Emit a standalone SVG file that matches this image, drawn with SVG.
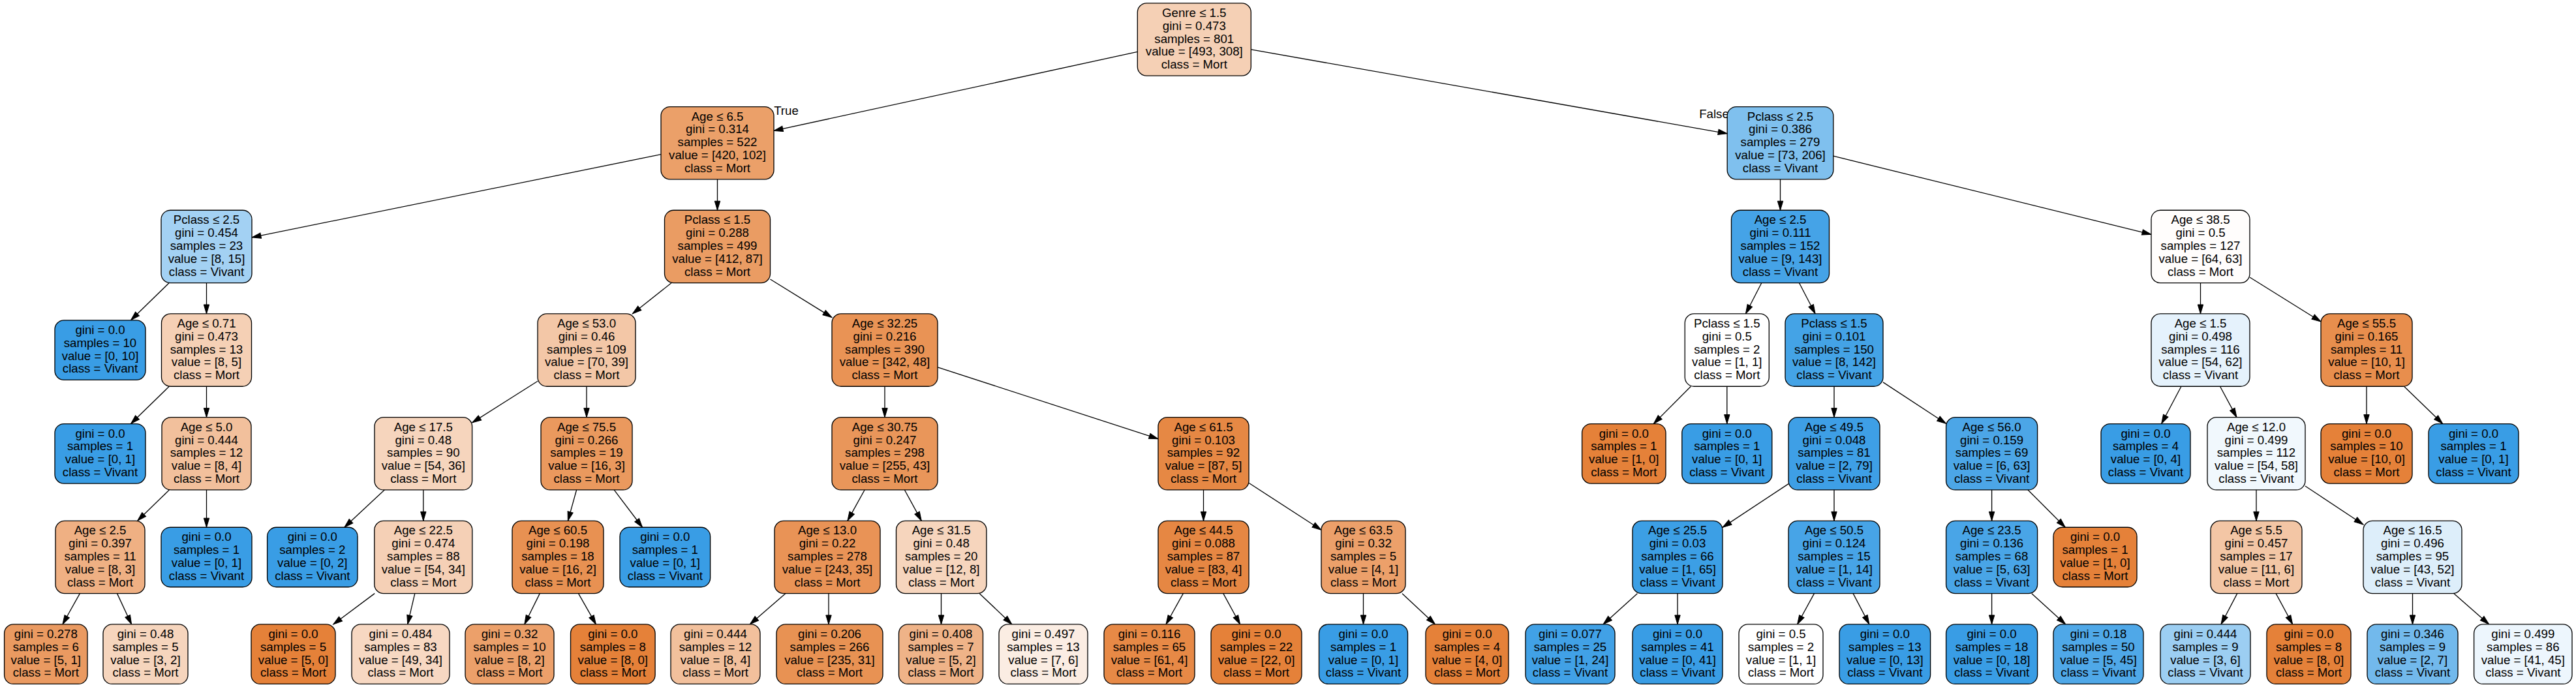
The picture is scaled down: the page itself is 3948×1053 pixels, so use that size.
<svg xmlns="http://www.w3.org/2000/svg" width="3948" height="1053" viewBox="0 0 3948 1053">
<defs>
<style>
.node rect{stroke:#000;stroke-width:1.33}
text{font-family:"Liberation Sans",Arial,Helvetica,sans-serif;font-size:18.67px;text-anchor:middle;fill:#000}
.e{stroke:#000;stroke-width:1.33;fill:none;marker-end:url(#arr)}
.m{fill:#e58139}
.v{fill:#399de5}
</style>
<marker id="arr" markerUnits="userSpaceOnUse" markerWidth="16" markerHeight="12" refX="14" refY="4.2" orient="auto" overflow="visible"><path d="M0,0 L14,4.2 L0,8.4 z" fill="#000" stroke="#000" stroke-width="1"/></marker>
</defs>
<rect x="0" y="0" width="3948" height="1053" fill="#fff"/>
<g id="edges">
<path class="e" d="M1743.3 79.4 L1186 200.4"/>
<path class="e" d="M1917.3 75.9 L2647.2 204.8"/>
<path class="e" d="M1013 236.7 L386 363.8"/>
<path class="e" d="M1099.5 274.85 L1099.5 322.25"/>
<path class="e" d="M2728.5 274.85 L2728.5 322.25"/>
<path class="e" d="M2809.8 239.2 L3297 359.3"/>
<path class="e" d="M259.3 433.55 L200.5 490.85"/>
<path class="e" d="M316.5 433.55 L316.5 480.95"/>
<path class="e" d="M1029.2 433.55 L969.3 480.95"/>
<path class="e" d="M1180.5 428 L1275 486.5"/>
<path class="e" d="M2699.85 433.55 L2675.45 480.95"/>
<path class="e" d="M2757.4 433.55 L2782.1 480.95"/>
<path class="e" d="M3372.5 433.55 L3372.5 480.95"/>
<path class="e" d="M3448 424.98 L3557 492.95"/>
<path class="e" d="M259.3 592.25 L200.5 649.55"/>
<path class="e" d="M316.5 592.25 L316.5 639.65"/>
<path class="e" d="M824 584.2 L723.6 647.9"/>
<path class="e" d="M899 592.25 L899 639.65"/>
<path class="e" d="M1356 592.25 L1356 639.65"/>
<path class="e" d="M1437 562.9 L1775 672.7"/>
<path class="e" d="M2591.4 592.25 L2534.35 649.55"/>
<path class="e" d="M2646.8 592.25 L2646.8 649.55"/>
<path class="e" d="M2811 592.25 L2811 639.65"/>
<path class="e" d="M2886 585.9 L2982.6 649.3"/>
<path class="e" d="M3343 592.25 L3312.7 649.55"/>
<path class="e" d="M3402.5 592.25 L3428 639.65"/>
<path class="e" d="M3627 592.25 L3627 649.55"/>
<path class="e" d="M3684.5 592.25 L3743.7 649.55"/>
<path class="e" d="M259.34 750.95 L210.66 798.35"/>
<path class="e" d="M316.5 750.95 L316.5 808.25"/>
<path class="e" d="M589.2 750.95 L527.8 808.25"/>
<path class="e" d="M648.8 750.95 L648.8 798.35"/>
<path class="e" d="M883.6 750.95 L870.4 798.35"/>
<path class="e" d="M941.2 750.95 L984.6 808.25"/>
<path class="e" d="M1325.1 750.95 L1298.9 798.35"/>
<path class="e" d="M1386.4 750.95 L1412.3 798.35"/>
<path class="e" d="M1844.5 750.95 L1844.5 798.35"/>
<path class="e" d="M1914 740.3 L2025 812.2"/>
<path class="e" d="M2741 741.6 L2640 808.4"/>
<path class="e" d="M2811 750.95 L2811 798.35"/>
<path class="e" d="M3052.6 750.95 L3052.6 798.35"/>
<path class="e" d="M3108.1 750.95 L3165.3 808.25"/>
<path class="e" d="M3458 750.95 L3458 798.35"/>
<path class="e" d="M3533 745 L3622 804"/>
<path class="e" d="M122.4 909.65 L95.9 956.95"/>
<path class="e" d="M179.5 909.65 L201.6 956.95"/>
<path class="e" d="M574.2 909.65 L510.8 956.95"/>
<path class="e" d="M635.8 909.65 L624.7 956.95"/>
<path class="e" d="M827.3 909.65 L803.8 956.95"/>
<path class="e" d="M886.5 909.65 L913.4 956.95"/>
<path class="e" d="M1203.8 909.65 L1149.3 956.95"/>
<path class="e" d="M1270 909.65 L1270 956.95"/>
<path class="e" d="M1442.5 909.65 L1442.5 956.95"/>
<path class="e" d="M1501.2 909.65 L1550.9 956.95"/>
<path class="e" d="M1813.4 909.65 L1787 956.95"/>
<path class="e" d="M1874.8 909.65 L1900.6 956.95"/>
<path class="e" d="M2089.5 909.65 L2089.5 956.95"/>
<path class="e" d="M2149 909.65 L2199.6 956.95"/>
<path class="e" d="M2509.4 909.65 L2457.1 956.95"/>
<path class="e" d="M2571 909.65 L2571 956.95"/>
<path class="e" d="M2780.5 909.65 L2754.6 956.95"/>
<path class="e" d="M2840.1 909.65 L2864.9 956.95"/>
<path class="e" d="M3052.6 909.65 L3052.6 956.95"/>
<path class="e" d="M3113.8 909.65 L3165.7 956.95"/>
<path class="e" d="M3428.8 909.65 L3404 956.95"/>
<path class="e" d="M3488.1 909.65 L3513.7 956.95"/>
<path class="e" d="M3697.5 909.65 L3697.5 956.95"/>
<path class="e" d="M3760.9 909.65 L3814.7 956.95"/>
<text x="1205" y="176">True</text>
<text x="2627" y="181">False</text>
</g>

<g id="n0" class="node"><rect x="1743.3" y="4.85" width="174" height="111.3" rx="14" fill="#f5d0b5"/><text x="1830.3" y="25.9"><tspan x="1830.3">Genre ≤ 1.5</tspan><tspan x="1830.3" dy="19.8">gini = 0.473</tspan><tspan x="1830.3" dy="19.8">samples = 801</tspan><tspan x="1830.3" dy="19.8">value = [493, 308]</tspan><tspan x="1830.3" dy="19.8">class = Mort</tspan></text></g>

<g id="n1" class="node"><rect x="1013" y="163.55" width="173" height="111.3" rx="14" fill="#eba069"/><text x="1099.5" y="184.6"><tspan x="1099.5">Age ≤ 6.5</tspan><tspan x="1099.5" dy="19.8">gini = 0.314</tspan><tspan x="1099.5" dy="19.8">samples = 522</tspan><tspan x="1099.5" dy="19.8">value = [420, 102]</tspan><tspan x="1099.5" dy="19.8">class = Mort</tspan></text></g>
<g id="n2" class="node"><rect x="2647.2" y="163.55" width="162.6" height="111.3" rx="14" fill="#7fc0ee"/><text x="2728.5" y="184.6"><tspan x="2728.5">Pclass ≤ 2.5</tspan><tspan x="2728.5" dy="19.8">gini = 0.386</tspan><tspan x="2728.5" dy="19.8">samples = 279</tspan><tspan x="2728.5" dy="19.8">value = [73, 206]</tspan><tspan x="2728.5" dy="19.8">class = Vivant</tspan></text></g>

<g id="n3" class="node"><rect x="247" y="322.25" width="139" height="111.3" rx="14" fill="#a3d1f3"/><text x="316.5" y="343.3"><tspan x="316.5">Pclass ≤ 2.5</tspan><tspan x="316.5" dy="19.8">gini = 0.454</tspan><tspan x="316.5" dy="19.8">samples = 23</tspan><tspan x="316.5" dy="19.8">value = [8, 15]</tspan><tspan x="316.5" dy="19.8">class = Vivant</tspan></text></g>
<g id="n4" class="node"><rect x="1018.5" y="322.25" width="162" height="111.3" rx="14" fill="#ea9c63"/><text x="1099.5" y="343.3"><tspan x="1099.5">Pclass ≤ 1.5</tspan><tspan x="1099.5" dy="19.8">gini = 0.288</tspan><tspan x="1099.5" dy="19.8">samples = 499</tspan><tspan x="1099.5" dy="19.8">value = [412, 87]</tspan><tspan x="1099.5" dy="19.8">class = Mort</tspan></text></g>
<g id="n5" class="node"><rect x="2653.5" y="322.25" width="150" height="111.3" rx="14" fill="#45a3e7"/><text x="2728.5" y="343.3"><tspan x="2728.5">Age ≤ 2.5</tspan><tspan x="2728.5" dy="19.8">gini = 0.111</tspan><tspan x="2728.5" dy="19.8">samples = 152</tspan><tspan x="2728.5" dy="19.8">value = [9, 143]</tspan><tspan x="2728.5" dy="19.8">class = Vivant</tspan></text></g>
<g id="n6" class="node"><rect x="3297" y="322.25" width="151" height="111.3" rx="14" fill="#fffdfc"/><text x="3372.5" y="343.3"><tspan x="3372.5">Age ≤ 38.5</tspan><tspan x="3372.5" dy="19.8">gini = 0.5</tspan><tspan x="3372.5" dy="19.8">samples = 127</tspan><tspan x="3372.5" dy="19.8">value = [64, 63]</tspan><tspan x="3372.5" dy="19.8">class = Mort</tspan></text></g>

<g id="n7" class="node"><rect class="v" x="84" y="490.85" width="139" height="91.5" rx="14"/><text x="153.5" y="511.9"><tspan x="153.5">gini = 0.0</tspan><tspan x="153.5" dy="19.8">samples = 10</tspan><tspan x="153.5" dy="19.8">value = [0, 10]</tspan><tspan x="153.5" dy="19.8">class = Vivant</tspan></text></g>
<g id="n8" class="node"><rect x="247.5" y="480.95" width="138" height="111.3" rx="14" fill="#f5d0b5"/><text x="316.5" y="502"><tspan x="316.5">Age ≤ 0.71</tspan><tspan x="316.5" dy="19.8">gini = 0.473</tspan><tspan x="316.5" dy="19.8">samples = 13</tspan><tspan x="316.5" dy="19.8">value = [8, 5]</tspan><tspan x="316.5" dy="19.8">class = Mort</tspan></text></g>
<g id="n9" class="node"><rect x="824" y="480.95" width="150" height="111.3" rx="14" fill="#f3c7a7"/><text x="899" y="502"><tspan x="899">Age ≤ 53.0</tspan><tspan x="899" dy="19.8">gini = 0.46</tspan><tspan x="899" dy="19.8">samples = 109</tspan><tspan x="899" dy="19.8">value = [70, 39]</tspan><tspan x="899" dy="19.8">class = Mort</tspan></text></g>
<g id="n10" class="node"><rect x="1275" y="480.95" width="162" height="111.3" rx="14" fill="#e99355"/><text x="1356" y="502"><tspan x="1356">Age ≤ 32.25</tspan><tspan x="1356" dy="19.8">gini = 0.216</tspan><tspan x="1356" dy="19.8">samples = 390</tspan><tspan x="1356" dy="19.8">value = [342, 48]</tspan><tspan x="1356" dy="19.8">class = Mort</tspan></text></g>
<g id="n11" class="node"><rect x="2582.3" y="480.95" width="129" height="111.3" rx="14" fill="#ffffff"/><text x="2646.8" y="502"><tspan x="2646.8">Pclass ≤ 1.5</tspan><tspan x="2646.8" dy="19.8">gini = 0.5</tspan><tspan x="2646.8" dy="19.8">samples = 2</tspan><tspan x="2646.8" dy="19.8">value = [1, 1]</tspan><tspan x="2646.8" dy="19.8">class = Mort</tspan></text></g>
<g id="n12" class="node"><rect x="2736" y="480.95" width="150" height="111.3" rx="14" fill="#44a3e6"/><text x="2811" y="502"><tspan x="2811">Pclass ≤ 1.5</tspan><tspan x="2811" dy="19.8">gini = 0.101</tspan><tspan x="2811" dy="19.8">samples = 150</tspan><tspan x="2811" dy="19.8">value = [8, 142]</tspan><tspan x="2811" dy="19.8">class = Vivant</tspan></text></g>
<g id="n13" class="node"><rect x="3297" y="480.95" width="151" height="111.3" rx="14" fill="#e5f2fc"/><text x="3372.5" y="502"><tspan x="3372.5">Age ≤ 1.5</tspan><tspan x="3372.5" dy="19.8">gini = 0.498</tspan><tspan x="3372.5" dy="19.8">samples = 116</tspan><tspan x="3372.5" dy="19.8">value = [54, 62]</tspan><tspan x="3372.5" dy="19.8">class = Vivant</tspan></text></g>
<g id="n14" class="node"><rect x="3557" y="480.95" width="140" height="111.3" rx="14" fill="#e88e4d"/><text x="3627" y="502"><tspan x="3627">Age ≤ 55.5</tspan><tspan x="3627" dy="19.8">gini = 0.165</tspan><tspan x="3627" dy="19.8">samples = 11</tspan><tspan x="3627" dy="19.8">value = [10, 1]</tspan><tspan x="3627" dy="19.8">class = Mort</tspan></text></g>

<g id="n15" class="node"><rect class="v" x="84" y="649.55" width="139" height="91.5" rx="14"/><text x="153.5" y="670.6"><tspan x="153.5">gini = 0.0</tspan><tspan x="153.5" dy="19.8">samples = 1</tspan><tspan x="153.5" dy="19.8">value = [0, 1]</tspan><tspan x="153.5" dy="19.8">class = Vivant</tspan></text></g>
<g id="n16" class="node"><rect x="248" y="639.65" width="137" height="111.3" rx="14" fill="#f2c09c"/><text x="316.5" y="660.7"><tspan x="316.5">Age ≤ 5.0</tspan><tspan x="316.5" dy="19.8">gini = 0.444</tspan><tspan x="316.5" dy="19.8">samples = 12</tspan><tspan x="316.5" dy="19.8">value = [8, 4]</tspan><tspan x="316.5" dy="19.8">class = Mort</tspan></text></g>
<g id="n17" class="node"><rect x="574" y="639.65" width="149.6" height="111.3" rx="14" fill="#f6d5bd"/><text x="648.8" y="660.7"><tspan x="648.8">Age ≤ 17.5</tspan><tspan x="648.8" dy="19.8">gini = 0.48</tspan><tspan x="648.8" dy="19.8">samples = 90</tspan><tspan x="648.8" dy="19.8">value = [54, 36]</tspan><tspan x="648.8" dy="19.8">class = Mort</tspan></text></g>
<g id="n18" class="node"><rect x="829" y="639.65" width="140" height="111.3" rx="14" fill="#ea995e"/><text x="899" y="660.7"><tspan x="899">Age ≤ 75.5</tspan><tspan x="899" dy="19.8">gini = 0.266</tspan><tspan x="899" dy="19.8">samples = 19</tspan><tspan x="899" dy="19.8">value = [16, 3]</tspan><tspan x="899" dy="19.8">class = Mort</tspan></text></g>
<g id="n19" class="node"><rect x="1275" y="639.65" width="162" height="111.3" rx="14" fill="#e9965a"/><text x="1356" y="660.7"><tspan x="1356">Age ≤ 30.75</tspan><tspan x="1356" dy="19.8">gini = 0.247</tspan><tspan x="1356" dy="19.8">samples = 298</tspan><tspan x="1356" dy="19.8">value = [255, 43]</tspan><tspan x="1356" dy="19.8">class = Mort</tspan></text></g>
<g id="n20" class="node"><rect x="1775" y="639.65" width="139" height="111.3" rx="14" fill="#e68844"/><text x="1844.5" y="660.7"><tspan x="1844.5">Age ≤ 61.5</tspan><tspan x="1844.5" dy="19.8">gini = 0.103</tspan><tspan x="1844.5" dy="19.8">samples = 92</tspan><tspan x="1844.5" dy="19.8">value = [87, 5]</tspan><tspan x="1844.5" dy="19.8">class = Mort</tspan></text></g>
<g id="n21" class="node"><rect class="m" x="2424.6" y="649.55" width="128.4" height="91.5" rx="14"/><text x="2488.8" y="670.6"><tspan x="2488.8">gini = 0.0</tspan><tspan x="2488.8" dy="19.8">samples = 1</tspan><tspan x="2488.8" dy="19.8">value = [1, 0]</tspan><tspan x="2488.8" dy="19.8">class = Mort</tspan></text></g>
<g id="n22" class="node"><rect class="v" x="2577.8" y="649.55" width="138" height="91.5" rx="14"/><text x="2646.8" y="670.6"><tspan x="2646.8">gini = 0.0</tspan><tspan x="2646.8" dy="19.8">samples = 1</tspan><tspan x="2646.8" dy="19.8">value = [0, 1]</tspan><tspan x="2646.8" dy="19.8">class = Vivant</tspan></text></g>
<g id="n23" class="node"><rect x="2741" y="639.65" width="140" height="111.3" rx="14" fill="#3e9fe6"/><text x="2811" y="660.7"><tspan x="2811">Age ≤ 49.5</tspan><tspan x="2811" dy="19.8">gini = 0.048</tspan><tspan x="2811" dy="19.8">samples = 81</tspan><tspan x="2811" dy="19.8">value = [2, 79]</tspan><tspan x="2811" dy="19.8">class = Vivant</tspan></text></g>
<g id="n24" class="node"><rect x="2982.6" y="639.65" width="140" height="111.3" rx="14" fill="#4ca6e7"/><text x="3052.6" y="660.7"><tspan x="3052.6">Age ≤ 56.0</tspan><tspan x="3052.6" dy="19.8">gini = 0.159</tspan><tspan x="3052.6" dy="19.8">samples = 69</tspan><tspan x="3052.6" dy="19.8">value = [6, 63]</tspan><tspan x="3052.6" dy="19.8">class = Vivant</tspan></text></g>
<g id="n25" class="node"><rect class="v" x="3220" y="649.55" width="137" height="91.5" rx="14"/><text x="3288.5" y="670.6"><tspan x="3288.5">gini = 0.0</tspan><tspan x="3288.5" dy="19.8">samples = 4</tspan><tspan x="3288.5" dy="19.8">value = [0, 4]</tspan><tspan x="3288.5" dy="19.8">class = Vivant</tspan></text></g>
<g id="n26" class="node"><rect x="3383" y="639.65" width="150" height="111.3" rx="14" fill="#f1f8fd"/><text x="3458" y="660.7"><tspan x="3458">Age ≤ 12.0</tspan><tspan x="3458" dy="19.8">gini = 0.499</tspan><tspan x="3458" dy="19.8">samples = 112</tspan><tspan x="3458" dy="19.8">value = [54, 58]</tspan><tspan x="3458" dy="19.8">class = Vivant</tspan></text></g>
<g id="n27" class="node"><rect class="m" x="3557" y="649.55" width="140" height="91.5" rx="14"/><text x="3627" y="670.6"><tspan x="3627">gini = 0.0</tspan><tspan x="3627" dy="19.8">samples = 10</tspan><tspan x="3627" dy="19.8">value = [10, 0]</tspan><tspan x="3627" dy="19.8">class = Mort</tspan></text></g>
<g id="n28" class="node"><rect class="v" x="3722" y="649.55" width="138" height="91.5" rx="14"/><text x="3791" y="670.6"><tspan x="3791">gini = 0.0</tspan><tspan x="3791" dy="19.8">samples = 1</tspan><tspan x="3791" dy="19.8">value = [0, 1]</tspan><tspan x="3791" dy="19.8">class = Vivant</tspan></text></g>

<g id="n29" class="node"><rect x="85" y="798.35" width="137" height="111.3" rx="14" fill="#efb083"/><text x="153.5" y="819.4"><tspan x="153.5">Age ≤ 2.5</tspan><tspan x="153.5" dy="19.8">gini = 0.397</tspan><tspan x="153.5" dy="19.8">samples = 11</tspan><tspan x="153.5" dy="19.8">value = [8, 3]</tspan><tspan x="153.5" dy="19.8">class = Mort</tspan></text></g>
<g id="n30" class="node"><rect class="v" x="247" y="808.25" width="139" height="91.5" rx="14"/><text x="316.5" y="829.3"><tspan x="316.5">gini = 0.0</tspan><tspan x="316.5" dy="19.8">samples = 1</tspan><tspan x="316.5" dy="19.8">value = [0, 1]</tspan><tspan x="316.5" dy="19.8">class = Vivant</tspan></text></g>
<g id="n31" class="node"><rect class="v" x="409.6" y="808.25" width="138.4" height="91.5" rx="14"/><text x="478.8" y="829.3"><tspan x="478.8">gini = 0.0</tspan><tspan x="478.8" dy="19.8">samples = 2</tspan><tspan x="478.8" dy="19.8">value = [0, 2]</tspan><tspan x="478.8" dy="19.8">class = Vivant</tspan></text></g>
<g id="n32" class="node"><rect x="573.8" y="798.35" width="150" height="111.3" rx="14" fill="#f5d0b6"/><text x="648.8" y="819.4"><tspan x="648.8">Age ≤ 22.5</tspan><tspan x="648.8" dy="19.8">gini = 0.474</tspan><tspan x="648.8" dy="19.8">samples = 88</tspan><tspan x="648.8" dy="19.8">value = [54, 34]</tspan><tspan x="648.8" dy="19.8">class = Mort</tspan></text></g>
<g id="n33" class="node"><rect x="785" y="798.35" width="140" height="111.3" rx="14" fill="#e89152"/><text x="855" y="819.4"><tspan x="855">Age ≤ 60.5</tspan><tspan x="855" dy="19.8">gini = 0.198</tspan><tspan x="855" dy="19.8">samples = 18</tspan><tspan x="855" dy="19.8">value = [16, 2]</tspan><tspan x="855" dy="19.8">class = Mort</tspan></text></g>
<g id="n34" class="node"><rect class="v" x="950" y="808.25" width="138.6" height="91.5" rx="14"/><text x="1019.3" y="829.3"><tspan x="1019.3">gini = 0.0</tspan><tspan x="1019.3" dy="19.8">samples = 1</tspan><tspan x="1019.3" dy="19.8">value = [0, 1]</tspan><tspan x="1019.3" dy="19.8">class = Vivant</tspan></text></g>
<g id="n35" class="node"><rect x="1187" y="798.35" width="162" height="111.3" rx="14" fill="#e99356"/><text x="1268" y="819.4"><tspan x="1268">Age ≤ 13.0</tspan><tspan x="1268" dy="19.8">gini = 0.22</tspan><tspan x="1268" dy="19.8">samples = 278</tspan><tspan x="1268" dy="19.8">value = [243, 35]</tspan><tspan x="1268" dy="19.8">class = Mort</tspan></text></g>
<g id="n36" class="node"><rect x="1373.5" y="798.35" width="138.4" height="111.3" rx="14" fill="#f6d5bd"/><text x="1442.7" y="819.4"><tspan x="1442.7">Age ≤ 31.5</tspan><tspan x="1442.7" dy="19.8">gini = 0.48</tspan><tspan x="1442.7" dy="19.8">samples = 20</tspan><tspan x="1442.7" dy="19.8">value = [12, 8]</tspan><tspan x="1442.7" dy="19.8">class = Mort</tspan></text></g>
<g id="n37" class="node"><rect x="1775" y="798.35" width="139" height="111.3" rx="14" fill="#e68743"/><text x="1844.5" y="819.4"><tspan x="1844.5">Age ≤ 44.5</tspan><tspan x="1844.5" dy="19.8">gini = 0.088</tspan><tspan x="1844.5" dy="19.8">samples = 87</tspan><tspan x="1844.5" dy="19.8">value = [83, 4]</tspan><tspan x="1844.5" dy="19.8">class = Mort</tspan></text></g>
<g id="n38" class="node"><rect x="2025" y="798.35" width="129" height="111.3" rx="14" fill="#eca06a"/><text x="2089.5" y="819.4"><tspan x="2089.5">Age ≤ 63.5</tspan><tspan x="2089.5" dy="19.8">gini = 0.32</tspan><tspan x="2089.5" dy="19.8">samples = 5</tspan><tspan x="2089.5" dy="19.8">value = [4, 1]</tspan><tspan x="2089.5" dy="19.8">class = Mort</tspan></text></g>
<g id="n39" class="node"><rect x="2502" y="798.35" width="138" height="111.3" rx="14" fill="#3c9fe5"/><text x="2571" y="819.4"><tspan x="2571">Age ≤ 25.5</tspan><tspan x="2571" dy="19.8">gini = 0.03</tspan><tspan x="2571" dy="19.8">samples = 66</tspan><tspan x="2571" dy="19.8">value = [1, 65]</tspan><tspan x="2571" dy="19.8">class = Vivant</tspan></text></g>
<g id="n40" class="node"><rect x="2741" y="798.35" width="140" height="111.3" rx="14" fill="#47a4e7"/><text x="2811" y="819.4"><tspan x="2811">Age ≤ 50.5</tspan><tspan x="2811" dy="19.8">gini = 0.124</tspan><tspan x="2811" dy="19.8">samples = 15</tspan><tspan x="2811" dy="19.8">value = [1, 14]</tspan><tspan x="2811" dy="19.8">class = Vivant</tspan></text></g>
<g id="n41" class="node"><rect x="2982.6" y="798.35" width="140" height="111.3" rx="14" fill="#49a5e7"/><text x="3052.6" y="819.4"><tspan x="3052.6">Age ≤ 23.5</tspan><tspan x="3052.6" dy="19.8">gini = 0.136</tspan><tspan x="3052.6" dy="19.8">samples = 68</tspan><tspan x="3052.6" dy="19.8">value = [5, 63]</tspan><tspan x="3052.6" dy="19.8">class = Vivant</tspan></text></g>
<g id="n42" class="node"><rect class="m" x="3147" y="808.25" width="128" height="91.5" rx="14"/><text x="3211" y="829.3"><tspan x="3211">gini = 0.0</tspan><tspan x="3211" dy="19.8">samples = 1</tspan><tspan x="3211" dy="19.8">value = [1, 0]</tspan><tspan x="3211" dy="19.8">class = Mort</tspan></text></g>
<g id="n43" class="node"><rect x="3388" y="798.35" width="140" height="111.3" rx="14" fill="#f3c6a5"/><text x="3458" y="819.4"><tspan x="3458">Age ≤ 5.5</tspan><tspan x="3458" dy="19.8">gini = 0.457</tspan><tspan x="3458" dy="19.8">samples = 17</tspan><tspan x="3458" dy="19.8">value = [11, 6]</tspan><tspan x="3458" dy="19.8">class = Mort</tspan></text></g>
<g id="n44" class="node"><rect x="3622" y="798.35" width="151" height="111.3" rx="14" fill="#ddeefa"/><text x="3697.5" y="819.4"><tspan x="3697.5">Age ≤ 16.5</tspan><tspan x="3697.5" dy="19.8">gini = 0.496</tspan><tspan x="3697.5" dy="19.8">samples = 95</tspan><tspan x="3697.5" dy="19.8">value = [43, 52]</tspan><tspan x="3697.5" dy="19.8">class = Vivant</tspan></text></g>

<g id="n45" class="node"><rect x="6.6" y="956.95" width="127.4" height="91.5" rx="14" fill="#ea9a61"/><text x="70.3" y="978"><tspan x="70.3">gini = 0.278</tspan><tspan x="70.3" dy="19.8">samples = 6</tspan><tspan x="70.3" dy="19.8">value = [5, 1]</tspan><tspan x="70.3" dy="19.8">class = Mort</tspan></text></g>
<g id="n46" class="node"><rect x="158" y="956.95" width="130" height="91.5" rx="14" fill="#f6d5bd"/><text x="223" y="978"><tspan x="223">gini = 0.48</tspan><tspan x="223" dy="19.8">samples = 5</tspan><tspan x="223" dy="19.8">value = [3, 2]</tspan><tspan x="223" dy="19.8">class = Mort</tspan></text></g>
<g id="n47" class="node"><rect class="m" x="385" y="956.95" width="129" height="91.5" rx="14"/><text x="449.5" y="978"><tspan x="449.5">gini = 0.0</tspan><tspan x="449.5" dy="19.8">samples = 5</tspan><tspan x="449.5" dy="19.8">value = [5, 0]</tspan><tspan x="449.5" dy="19.8">class = Mort</tspan></text></g>
<g id="n48" class="node"><rect x="539" y="956.95" width="150" height="91.5" rx="14" fill="#f7d8c2"/><text x="614" y="978"><tspan x="614">gini = 0.484</tspan><tspan x="614" dy="19.8">samples = 83</tspan><tspan x="614" dy="19.8">value = [49, 34]</tspan><tspan x="614" dy="19.8">class = Mort</tspan></text></g>
<g id="n49" class="node"><rect x="713" y="956.95" width="136" height="91.5" rx="14" fill="#eca06a"/><text x="781" y="978"><tspan x="781">gini = 0.32</tspan><tspan x="781" dy="19.8">samples = 10</tspan><tspan x="781" dy="19.8">value = [8, 2]</tspan><tspan x="781" dy="19.8">class = Mort</tspan></text></g>
<g id="n50" class="node"><rect class="m" x="874.5" y="956.95" width="129.6" height="91.5" rx="14"/><text x="939.3" y="978"><tspan x="939.3">gini = 0.0</tspan><tspan x="939.3" dy="19.8">samples = 8</tspan><tspan x="939.3" dy="19.8">value = [8, 0]</tspan><tspan x="939.3" dy="19.8">class = Mort</tspan></text></g>
<g id="n51" class="node"><rect x="1028" y="956.95" width="137" height="91.5" rx="14" fill="#f2c09c"/><text x="1096.5" y="978"><tspan x="1096.5">gini = 0.444</tspan><tspan x="1096.5" dy="19.8">samples = 12</tspan><tspan x="1096.5" dy="19.8">value = [8, 4]</tspan><tspan x="1096.5" dy="19.8">class = Mort</tspan></text></g>
<g id="n52" class="node"><rect x="1190" y="956.95" width="163" height="91.5" rx="14" fill="#e89253"/><text x="1271.5" y="978"><tspan x="1271.5">gini = 0.206</tspan><tspan x="1271.5" dy="19.8">samples = 266</tspan><tspan x="1271.5" dy="19.8">value = [235, 31]</tspan><tspan x="1271.5" dy="19.8">class = Mort</tspan></text></g>
<g id="n53" class="node"><rect x="1377.5" y="956.95" width="129" height="91.5" rx="14" fill="#efb388"/><text x="1442" y="978"><tspan x="1442">gini = 0.408</tspan><tspan x="1442" dy="19.8">samples = 7</tspan><tspan x="1442" dy="19.8">value = [5, 2]</tspan><tspan x="1442" dy="19.8">class = Mort</tspan></text></g>
<g id="n54" class="node"><rect x="1531" y="956.95" width="136" height="91.5" rx="14" fill="#fbede3"/><text x="1599" y="978"><tspan x="1599">gini = 0.497</tspan><tspan x="1599" dy="19.8">samples = 13</tspan><tspan x="1599" dy="19.8">value = [7, 6]</tspan><tspan x="1599" dy="19.8">class = Mort</tspan></text></g>
<g id="n55" class="node"><rect x="1692" y="956.95" width="139" height="91.5" rx="14" fill="#e78946"/><text x="1761.5" y="978"><tspan x="1761.5">gini = 0.116</tspan><tspan x="1761.5" dy="19.8">samples = 65</tspan><tspan x="1761.5" dy="19.8">value = [61, 4]</tspan><tspan x="1761.5" dy="19.8">class = Mort</tspan></text></g>
<g id="n56" class="node"><rect class="m" x="1856" y="956.95" width="139" height="91.5" rx="14"/><text x="1925.5" y="978"><tspan x="1925.5">gini = 0.0</tspan><tspan x="1925.5" dy="19.8">samples = 22</tspan><tspan x="1925.5" dy="19.8">value = [22, 0]</tspan><tspan x="1925.5" dy="19.8">class = Mort</tspan></text></g>
<g id="n57" class="node"><rect class="v" x="2021.5" y="956.95" width="136" height="91.5" rx="14"/><text x="2089.5" y="978"><tspan x="2089.5">gini = 0.0</tspan><tspan x="2089.5" dy="19.8">samples = 1</tspan><tspan x="2089.5" dy="19.8">value = [0, 1]</tspan><tspan x="2089.5" dy="19.8">class = Vivant</tspan></text></g>
<g id="n58" class="node"><rect class="m" x="2185" y="956.95" width="127" height="91.5" rx="14"/><text x="2248.5" y="978"><tspan x="2248.5">gini = 0.0</tspan><tspan x="2248.5" dy="19.8">samples = 4</tspan><tspan x="2248.5" dy="19.8">value = [4, 0]</tspan><tspan x="2248.5" dy="19.8">class = Mort</tspan></text></g>
<g id="n59" class="node"><rect x="2338" y="956.95" width="137" height="91.5" rx="14" fill="#41a1e6"/><text x="2406.5" y="978"><tspan x="2406.5">gini = 0.077</tspan><tspan x="2406.5" dy="19.8">samples = 25</tspan><tspan x="2406.5" dy="19.8">value = [1, 24]</tspan><tspan x="2406.5" dy="19.8">class = Vivant</tspan></text></g>
<g id="n60" class="node"><rect class="v" x="2502" y="956.95" width="138" height="91.5" rx="14"/><text x="2571" y="978"><tspan x="2571">gini = 0.0</tspan><tspan x="2571" dy="19.8">samples = 41</tspan><tspan x="2571" dy="19.8">value = [0, 41]</tspan><tspan x="2571" dy="19.8">class = Vivant</tspan></text></g>
<g id="n61" class="node"><rect x="2665" y="956.95" width="129" height="91.5" rx="14" fill="#ffffff"/><text x="2729.5" y="978"><tspan x="2729.5">gini = 0.5</tspan><tspan x="2729.5" dy="19.8">samples = 2</tspan><tspan x="2729.5" dy="19.8">value = [1, 1]</tspan><tspan x="2729.5" dy="19.8">class = Mort</tspan></text></g>
<g id="n62" class="node"><rect class="v" x="2819" y="956.95" width="139.6" height="91.5" rx="14"/><text x="2888.8" y="978"><tspan x="2888.8">gini = 0.0</tspan><tspan x="2888.8" dy="19.8">samples = 13</tspan><tspan x="2888.8" dy="19.8">value = [0, 13]</tspan><tspan x="2888.8" dy="19.8">class = Vivant</tspan></text></g>
<g id="n63" class="node"><rect class="v" x="2982.6" y="956.95" width="140" height="91.5" rx="14"/><text x="3052.6" y="978"><tspan x="3052.6">gini = 0.0</tspan><tspan x="3052.6" dy="19.8">samples = 18</tspan><tspan x="3052.6" dy="19.8">value = [0, 18]</tspan><tspan x="3052.6" dy="19.8">class = Vivant</tspan></text></g>
<g id="n64" class="node"><rect x="3147" y="956.95" width="138" height="91.5" rx="14" fill="#4fa8e8"/><text x="3216" y="978"><tspan x="3216">gini = 0.18</tspan><tspan x="3216" dy="19.8">samples = 50</tspan><tspan x="3216" dy="19.8">value = [5, 45]</tspan><tspan x="3216" dy="19.8">class = Vivant</tspan></text></g>
<g id="n65" class="node"><rect x="3311" y="956.95" width="138" height="91.5" rx="14" fill="#9ccef2"/><text x="3380" y="978"><tspan x="3380">gini = 0.444</tspan><tspan x="3380" dy="19.8">samples = 9</tspan><tspan x="3380" dy="19.8">value = [3, 6]</tspan><tspan x="3380" dy="19.8">class = Vivant</tspan></text></g>
<g id="n66" class="node"><rect class="m" x="3474" y="956.95" width="129" height="91.5" rx="14"/><text x="3538.5" y="978"><tspan x="3538.5">gini = 0.0</tspan><tspan x="3538.5" dy="19.8">samples = 8</tspan><tspan x="3538.5" dy="19.8">value = [8, 0]</tspan><tspan x="3538.5" dy="19.8">class = Mort</tspan></text></g>
<g id="n67" class="node"><rect x="3628" y="956.95" width="139" height="91.5" rx="14" fill="#72b9ec"/><text x="3697.5" y="978"><tspan x="3697.5">gini = 0.346</tspan><tspan x="3697.5" dy="19.8">samples = 9</tspan><tspan x="3697.5" dy="19.8">value = [2, 7]</tspan><tspan x="3697.5" dy="19.8">class = Vivant</tspan></text></g>
<g id="n68" class="node"><rect x="3791.6" y="956.95" width="150.4" height="91.5" rx="14" fill="#edf6fd"/><text x="3866.8" y="978"><tspan x="3866.8">gini = 0.499</tspan><tspan x="3866.8" dy="19.8">samples = 86</tspan><tspan x="3866.8" dy="19.8">value = [41, 45]</tspan><tspan x="3866.8" dy="19.8">class = Vivant</tspan></text></g>
</svg>
